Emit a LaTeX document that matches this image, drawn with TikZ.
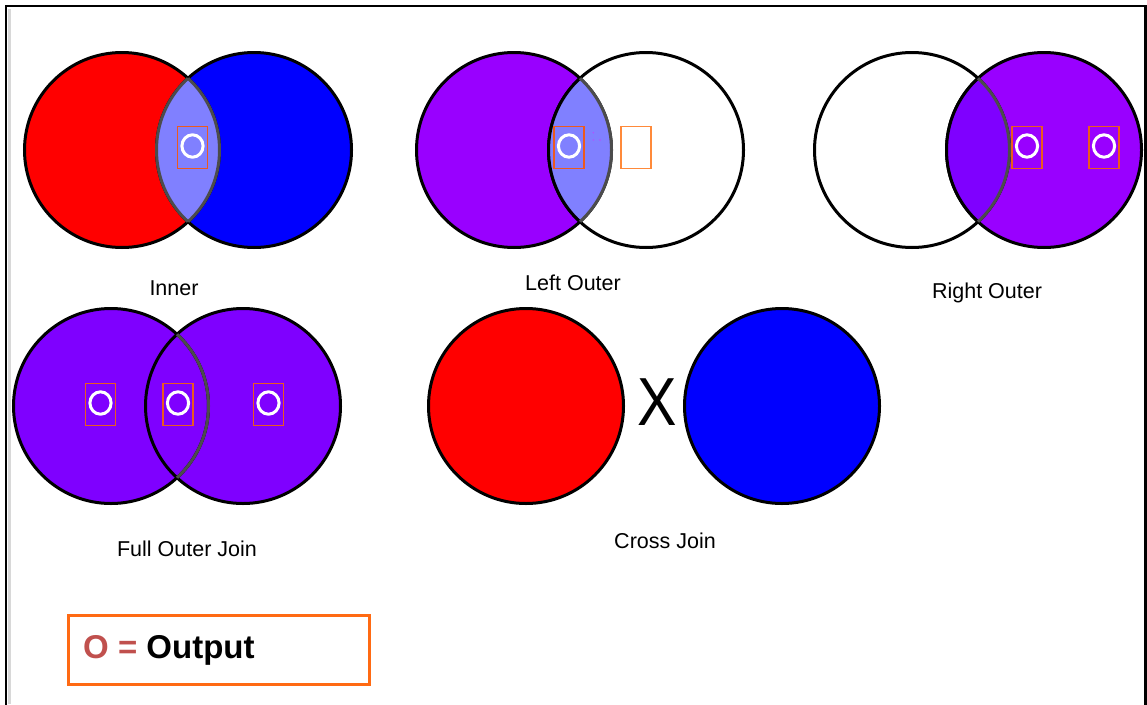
\documentclass[tikz,border=0pt]{standalone}
\usepackage{fontspec}
\setmainfont{Liberation Sans}
\definecolor{cred}{HTML}{FF0000}
\definecolor{cblue}{HTML}{0000FF}
\definecolor{lensblue}{HTML}{8080FF}
\definecolor{purpA}{HTML}{9900FF}
\definecolor{purpB}{HTML}{7F00FF}
\definecolor{boxorange}{HTML}{EC5A1E}
\definecolor{boxorangeL}{HTML}{FF8A3A}
\definecolor{legorange}{HTML}{FF6A13}
\definecolor{legred}{HTML}{C0504D}
\definecolor{shadowgray}{HTML}{D8D8D8}
\begin{document}
\begin{tikzpicture}[x=1pt,y=-1pt,
  ring/.style={line width=3pt, draw=black},
  lensarc/.style={line width=3pt, draw=black!70},
  outbox/.style={draw=boxorange, line width=1.8pt, minimum width=30pt, minimum height=42pt, inner sep=0pt},
  oring/.style={draw=white, line width=3pt},
  lbl/.style={font=\fontsize{21.5}{24}\selectfont, text=black, inner sep=0pt, anchor=base},
  legbox/.style={draw=legorange, line width=2.5pt, minimum width=301pt, minimum height=69pt, inner sep=0pt, anchor=north west},
]
\useasboundingbox (0,0) rectangle (1147,704);
\def\R{97.5}
% frame
\draw[shadowgray, line width=2.4pt] (9.6,9) -- (9.6,704);
\draw[line width=2.4pt] (6.2,710) -- (6.2,6.2) -- (1145.5,6.2) -- (1145.5,710);

% ---------- Inner ----------
\coordinate (iA) at (122,150); \coordinate (iB) at (254,150);
\fill[cred] (iA) circle (\R); \fill[cblue] (iB) circle (\R);
\draw[ring] (iA) circle (\R); \draw[ring] (iB) circle (\R);
\begin{scope}\clip (iA) circle (\R); \fill[lensblue] (iB) circle (\R); \draw[lensarc] (iB) circle (\R); \end{scope}
\begin{scope}\clip (iB) circle (\R); \draw[lensarc] (iA) circle (\R); \end{scope}
\node[outbox] (ib1) at (192.5,147.5) {};
\draw[oring] (ib1) ++(0,-1.5) ellipse [x radius=10.6, y radius=11.2];
\node[lbl] (linner) at (174,295) {Inner};

% ---------- Left Outer ----------
\coordinate (lA) at (514,150); \coordinate (lB) at (646,150);
\fill[purpA] (lA) circle (\R); \fill[white] (lB) circle (\R);
\draw[ring] (lA) circle (\R); \draw[ring] (lB) circle (\R);
\begin{scope}\clip (lA) circle (\R); \fill[lensblue] (lB) circle (\R); \draw[ring] (lB) circle (\R); \end{scope}
\begin{scope}\clip (lB) circle (\R); \draw[lensarc] (lA) circle (\R); \end{scope}
\node[outbox] (lb1) at (569,147.5) {};
\draw[oring] (lb1) ++(0,-1.5) ellipse [x radius=10.6, y radius=11.2];
\node[outbox, draw=boxorangeL] (lb2) at (636,147.5) {};
\fill[purpA!70] (593.3,132.7) circle (0.8);
\fill[purpA!70] (593.3,140) circle (0.8);
\fill[purpA!70] (600,140) circle (0.8);
\node[lbl] (lleft) at (573,290) {Left Outer};

% ---------- Right Outer ----------
\coordinate (rA) at (912,150); \coordinate (rB) at (1044,150);
\fill[white] (rA) circle (\R); \fill[purpA] (rB) circle (\R);
\draw[ring] (rA) circle (\R); \draw[ring] (rB) circle (\R);
\begin{scope}\clip (rA) circle (\R); \fill[purpB] (rB) circle (\R); \draw[ring] (rB) circle (\R); \end{scope}
\begin{scope}\clip (rB) circle (\R); \draw[lensarc] (rA) circle (\R); \end{scope}
\node[outbox] (rb1) at (1027,147.5) {};
\draw[oring] (rb1) ++(0,-1.5) ellipse [x radius=10.6, y radius=11.2];
\node[outbox] (rb2) at (1104,147.5) {};
\draw[oring] (rb2) ++(0,-1.5) ellipse [x radius=10.6, y radius=11.2];
\node[lbl] (lright) at (987,298) {Right Outer};

% ---------- Full Outer Join ----------
\coordinate (fA) at (111,406); \coordinate (fB) at (243,406);
\fill[purpB] (fA) circle (\R); \fill[purpB] (fB) circle (\R);
\draw[ring] (fA) circle (\R); \draw[ring] (fB) circle (\R);
\begin{scope}\clip (fB) circle (\R); \draw[lensarc] (fA) circle (\R); \end{scope}
\node[outbox] (fb1) at (100.5,404.5) {};
\draw[oring] (fb1) ++(0,-1.5) ellipse [x radius=10.6, y radius=11.2];
\node[outbox] (fb2) at (178,404.5) {};
\draw[oring] (fb2) ++(0,-1.5) ellipse [x radius=10.6, y radius=11.2];
\node[outbox] (fb3) at (268.5,404.5) {};
\draw[oring] (fb3) ++(0,-1.5) ellipse [x radius=10.6, y radius=11.2];
\node[lbl] (lfull) at (187,556) {Full Outer Join};

% ---------- Cross Join ----------
\coordinate (cA) at (526,406); \coordinate (cB) at (782,406);
\fill[cred] (cA) circle (\R); \fill[cblue] (cB) circle (\R);
\draw[ring] (cA) circle (\R); \draw[ring] (cB) circle (\R);
\node[font=\fontsize{68}{72}\selectfont, inner sep=0pt] (cx) at (657,402) {\scalebox{0.87}[1]{X}};
\node[lbl] (lcross) at (665,548) {Cross Join};

% ---------- Legend ----------
\node[legbox] (legend) at (67,614) {};
\node[anchor=base west, inner sep=0pt, font=\fontsize{33}{36}\selectfont\bfseries] (legtext) at (83,658) {\textcolor{legred}{O =} Output};
\end{tikzpicture}
\end{document}
